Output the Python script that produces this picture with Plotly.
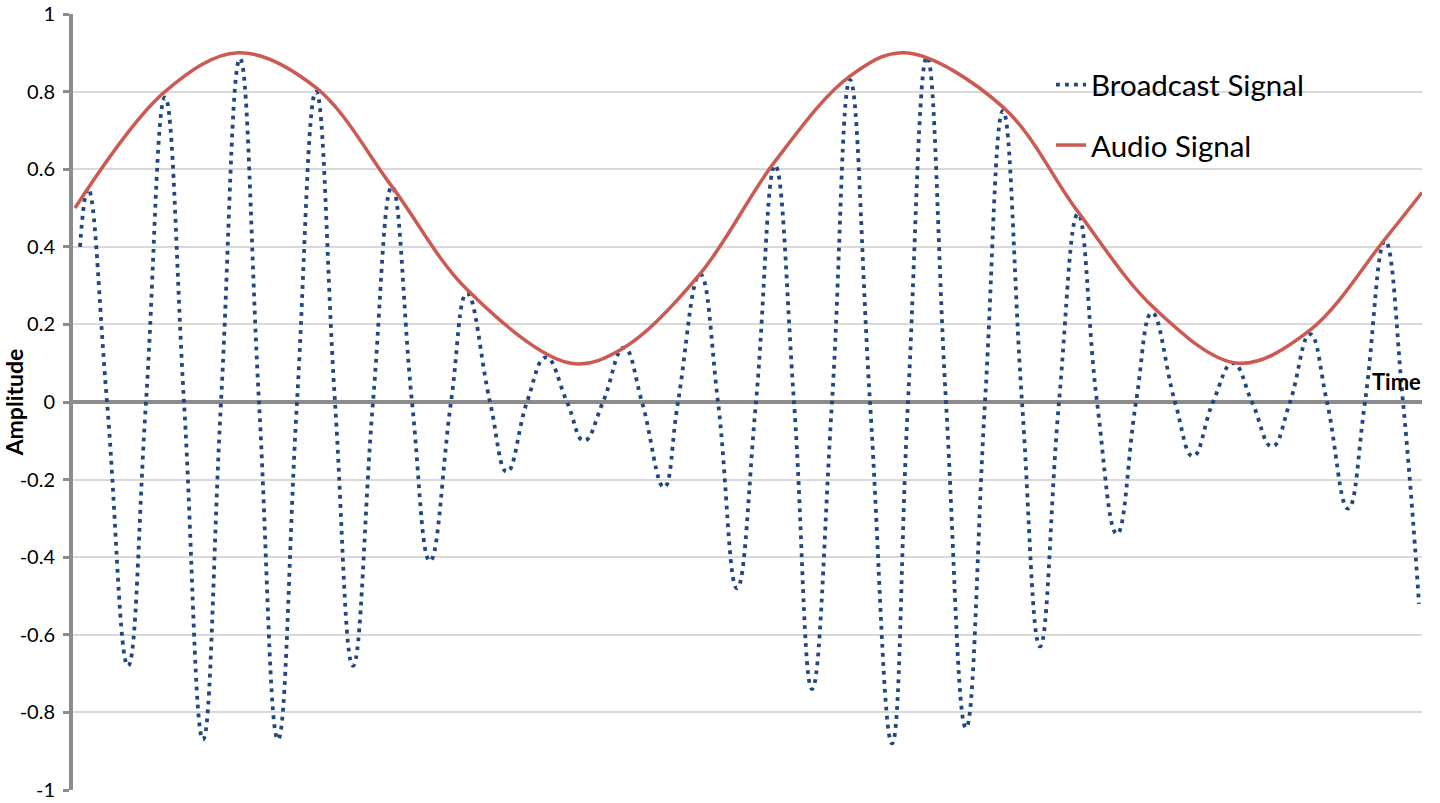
import plotly.graph_objects as go

# time in arbitrary units (no x labels on the original chart)
peak_time = [0.7, 1.5, 5.5, 9.2, 13.0, 16.7, 20.5, 24.3, 28.0, 31.9, 35.7, 39.4,
             43.4, 47.3, 51.1, 55.1, 59.1, 62.7, 66.4, 70.2, 73.9, 77.7, 81.9,
             85.4, 89.3, 93.0, 96.7, 100.5, 104.4, 107.9, 112.0, 116.0, 119.9,
             123.7, 127.5, 131.2, 134.6]
peak_value = [0.40, 0.55, -0.68, 0.785, -0.87, 0.885, -0.87, 0.80, -0.68, 0.555,
              -0.41, 0.28, -0.18, 0.115, -0.10, 0.14, -0.22, 0.33, -0.48, 0.61,
              -0.74, 0.83, -0.88, 0.89, -0.84, 0.75, -0.63, 0.485, -0.34, 0.23,
              -0.14, 0.10, -0.115, 0.175, -0.275, 0.415, -0.52]
zero_cross_time = [3.4, 7.3, 11.1, 14.8, 18.6, 22.4, 26.2, 30.0, 33.9, 37.8, 41.7,
                   45.4, 49.4, 53.0, 56.9, 60.5, 64.5, 68.3, 72.1, 75.9, 79.7,
                   83.5, 87.3, 91.2, 94.9, 98.6, 102.4, 106.3, 110.2, 114.0,
                   117.9, 121.7, 125.4, 129.2, 133.0]

audio_time = [0.2, 9.2, 16.5, 24.3, 31.9, 39.4, 49.8, 55.1, 62.7, 70.2, 77.7,
              83.2, 93.0, 100.5, 108.2, 116.5, 123.7, 131.2, 134.9]
audio_value = [0.50, 0.80, 0.90, 0.81, 0.555, 0.29, 0.10, 0.14, 0.33, 0.62, 0.84,
               0.90, 0.76, 0.49, 0.24, 0.10, 0.185, 0.42, 0.54]

y_ticks = [-1, -0.8, -0.6, -0.4, -0.2, 0, 0.2, 0.4, 0.6, 0.8, 1]
y_tick_labels = ['-1', '-0.8', '-0.6', '-0.4', '-0.2', '0', '0.2', '0.4', '0.6', '0.8', '1']

pts = sorted(zip(peak_time + zero_cross_time, peak_value + [0] * len(zero_cross_time)))
b_t = [p[0] for p in pts]
b_v = [p[1] for p in pts]

fig = go.Figure()

fig.add_trace(go.Scatter(
    x=b_t, y=b_v,
    mode='lines',
    line=dict(color='#1F497D', width=3.8, dash='3.8px,5.2px', shape='spline', smoothing=1.3),
    name='Broadcast Signal',
    legendgroup='b'
))

fig.add_trace(go.Scatter(
    x=audio_time, y=audio_value,
    mode='lines',
    line=dict(color='#CC5A52', width=3.5, shape='spline', smoothing=1.0),
    name='Audio Signal',
    legendgroup='a'
))

fig.add_annotation(
    x=1, y=0, xref='paper', yref='y',
    xanchor='right', yanchor='bottom', yshift=5, xshift=1,
    text='<b>Time</b>', showarrow=False,
    font=dict(family='Lato', size=22, color='black')
)

fig.update_layout(
    width=1440,
    height=803,
    margin=dict(l=73, r=18, t=14, b=13),
    paper_bgcolor='white',
    plot_bgcolor='white',
    font=dict(family='Lato', color='black'),
    xaxis=dict(
        range=[0, 134.9],
        showgrid=False,
        zeroline=False,
        showticklabels=False,
        showline=False,
        ticks='',
        automargin=False
    ),
    yaxis=dict(
        range=[-1, 1],
        tickvals=y_ticks,
        ticktext=y_tick_labels,
        tickfont=dict(family='Lato', size=20, color='black'),
        ticklabeloverflow='allow',
        ticklabelstandoff=4,
        showgrid=True,
        gridcolor='#d9d9d9',
        gridwidth=1.5,
        zeroline=True,
        zerolinecolor='#8c8c8c',
        zerolinewidth=4,
        showline=True,
        linecolor='#8c8c8c',
        linewidth=4,
        ticks='outside',
        ticklen=6,
        tickwidth=3,
        tickcolor='#8c8c8c',
        automargin=False,
        title=dict(
            text='<b>Amplitude</b>',
            font=dict(family='Lato', size=23, color='black'),
            standoff=6
        )
    ),
    legend=dict(
        x=0.725, y=0.942,
        xanchor='left', yanchor='top',
        bgcolor='rgba(0,0,0,0)',
        font=dict(family='Lato', size=29.5, color='black'),
        traceorder='grouped',
        tracegroupgap=19
    )
)

# drop the default body margin so the figure sits at the page corner
fig.write_html("out.html", config={'displayModeBar': False},
               post_script="document.body.style.margin='0';")
